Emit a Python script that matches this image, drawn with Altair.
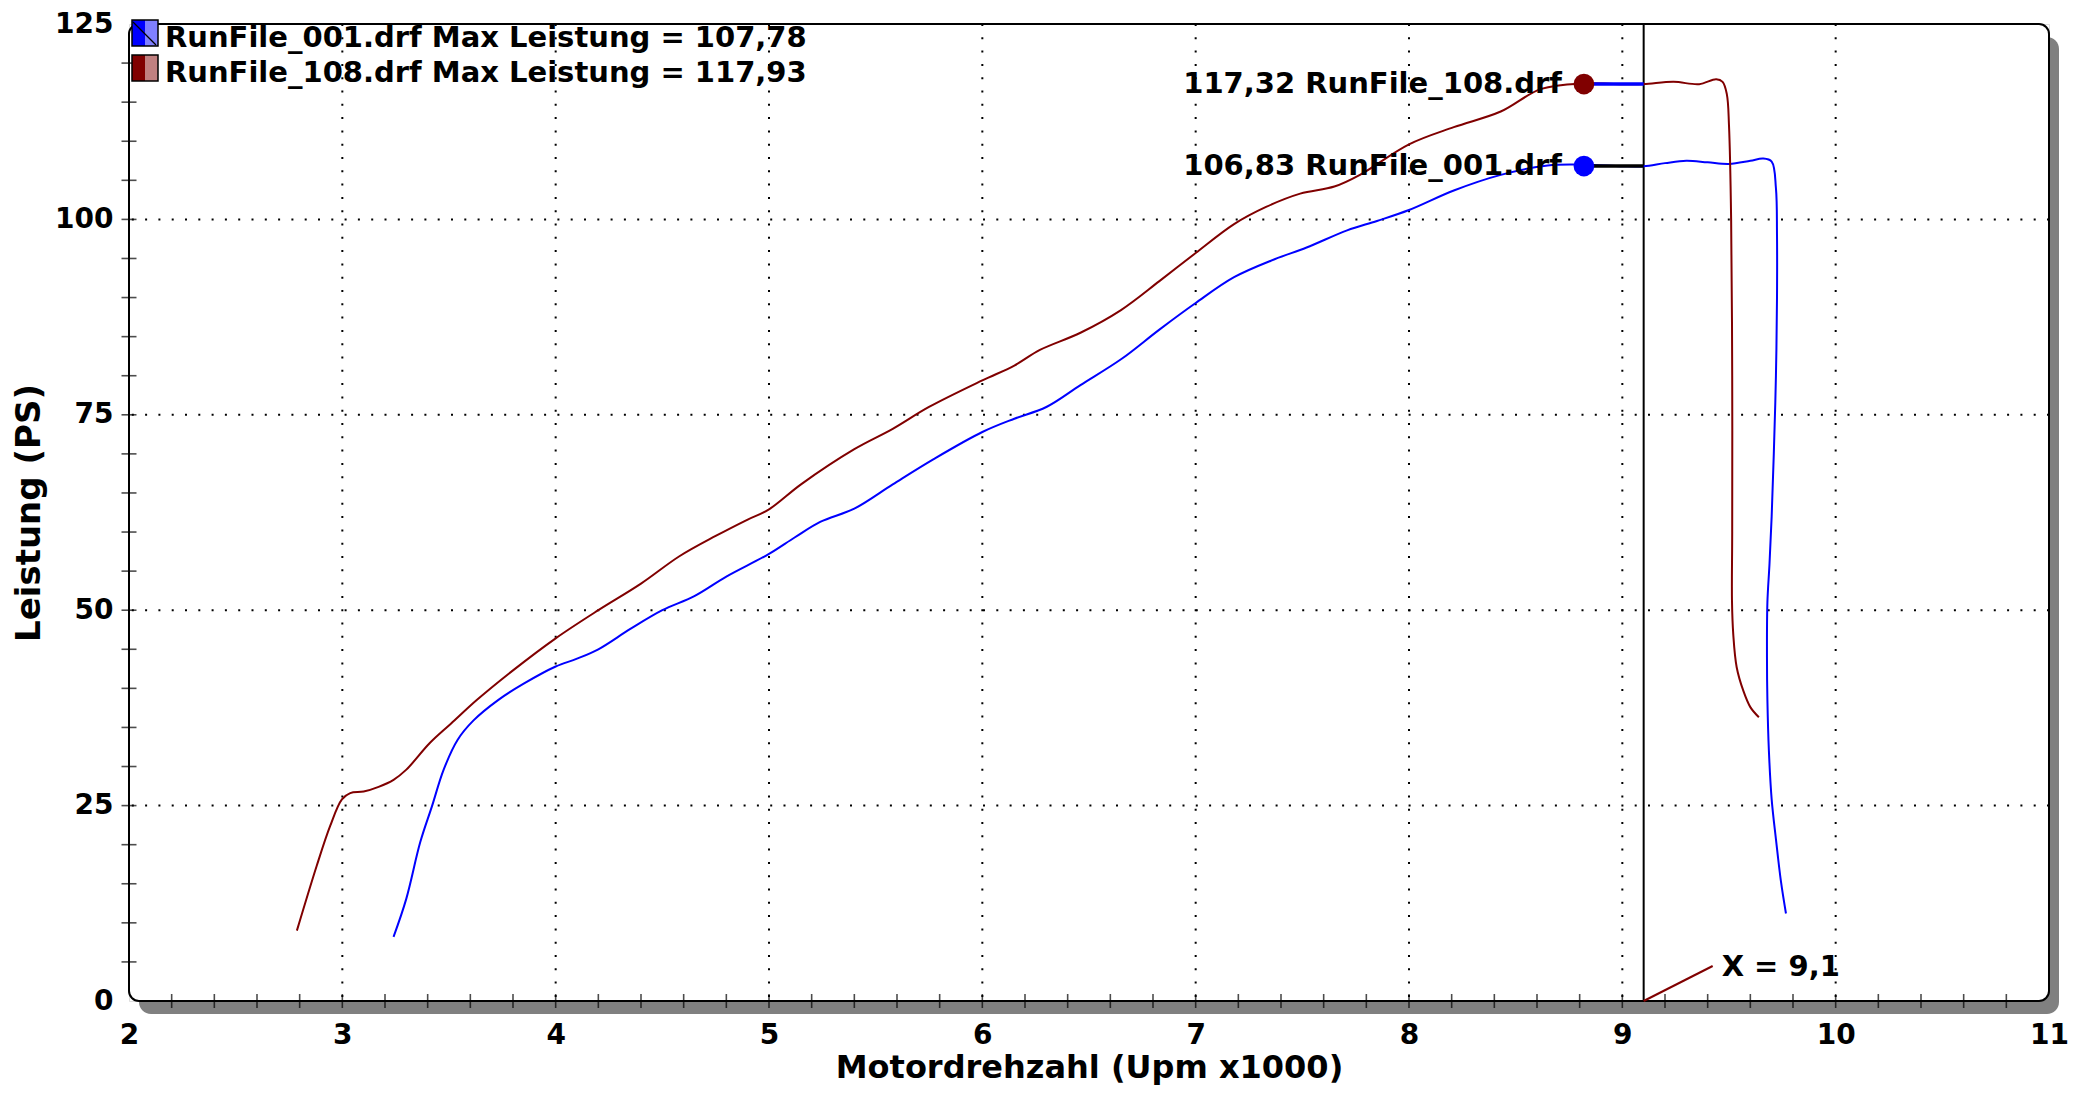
import altair as alt
import pandas as pd

# ---------------- data ----------------
series_names = ["RunFile_001.drf", "RunFile_108.drf"]
series_colors = ["#0000ff", "#800000"]
swatch_light = ["#8080ff", "#c08080"]
leader_colors = ["#000000", "#0000ff"]
max_leistung = [107.78, 117.93]
marker_rpm = 8.82
marker_values = [106.83, 117.32]
cursor_rpm = 9.1

rpm_001 = [3.24, 3.30, 3.365, 3.42, 3.475, 3.54, 3.615, 3.73, 3.85, 4.0, 4.1, 4.2,
           4.35, 4.5, 4.65, 4.8, 5.0, 5.12, 5.24, 5.4, 5.58, 5.77, 6.0, 6.15, 6.3,
           6.46, 6.65, 6.83, 7.0, 7.18, 7.37, 7.52, 7.71, 7.85, 8.0, 8.21, 8.43,
           8.65, 8.82, 9.0, 9.1, 9.2, 9.3, 9.4, 9.5, 9.6, 9.66, 9.70, 9.72, 9.725,
           9.725, 9.72, 9.71, 9.70, 9.69, 9.68, 9.678, 9.68, 9.687, 9.70, 9.72,
           9.744, 9.767]
pwr_001 = [8.2, 13.1, 20.3, 24.9, 29.6, 33.4, 35.9, 38.5, 40.6, 42.8, 43.8, 45.0,
           47.6, 50.0, 51.8, 54.3, 57.2, 59.3, 61.3, 63.0, 66.1, 69.3, 72.8, 74.5,
           76.0, 78.8, 82.1, 85.9, 89.3, 92.6, 94.9, 96.4, 98.6, 99.8, 101.2, 103.7,
           105.7, 106.9, 107.0, 106.8, 106.8, 107.2, 107.5, 107.3, 107.1, 107.5,
           107.78, 107.4, 104.0, 98.0, 90.0, 80.0, 70.0, 62.0, 56.0, 51.0, 44.0,
           38.5, 32.0, 25.8, 20.7, 15.2, 11.2]

rpm_108 = [2.787, 2.88, 2.943, 2.998, 3.037, 3.10, 3.17, 3.24, 3.30, 3.41, 3.51,
           3.63, 3.8, 4.0, 4.2, 4.4, 4.58, 4.75, 4.9, 5.0, 5.15, 5.4, 5.58, 5.75,
           6.0, 6.15, 6.27, 6.46, 6.65, 6.83, 7.0, 7.18, 7.33, 7.49, 7.65, 7.77,
           8.0, 8.21, 8.43, 8.62, 8.82, 9.0, 9.1, 9.24, 9.36, 9.44, 9.47, 9.49,
           9.50, 9.51, 9.515, 9.515, 9.514, 9.52, 9.536, 9.567, 9.60, 9.64]
pwr_108 = [9.0, 17.3, 22.4, 25.8, 26.6, 26.8, 27.4, 28.3, 29.6, 33.0, 35.5, 38.5,
           42.3, 46.4, 50.0, 53.4, 56.9, 59.5, 61.6, 62.9, 66.1, 70.6, 73.2, 76.0,
           79.4, 81.3, 83.3, 85.5, 88.4, 92.1, 95.7, 99.4, 101.6, 103.3, 104.2,
           105.7, 109.6, 111.8, 113.8, 116.7, 117.4, 117.3, 117.32, 117.6, 117.3,
           117.93, 117.6, 116.0, 112.0, 100.0, 80.0, 60.0, 51.2, 46.9, 42.7, 39.7,
           37.6, 36.3]

x_major = [2, 3, 4, 5, 6, 7, 8, 9, 10, 11]
y_major = [0, 25, 50, 75, 100, 125]
x_grid = [3, 4, 5, 6, 7, 8, 9, 10]
y_grid = [25, 50, 75, 100]
x_minor = [round(2 + 0.2 * i, 1) for i in range(1, 45)]
y_minor = [5 * i for i in range(1, 25)]

x_title = "Motordrehzahl (Upm x1000)"
y_title = "Leistung (PS)"

FONT = "DejaVu Sans"


def de(v, nd=2):
    return f"{v:.{nd}f}".replace(".", ",")


# ---------------- tables ----------------
curves = pd.concat([
    pd.DataFrame({"rpm": rpm_001, "ps": pwr_001, "run": series_names[0],
                  "idx": range(len(rpm_001))}),
    pd.DataFrame({"rpm": rpm_108, "ps": pwr_108, "run": series_names[1],
                  "idx": range(len(rpm_108))}),
])
markers = pd.DataFrame({
    "rpm": [marker_rpm, marker_rpm],
    "rpm2": [cursor_rpm, cursor_rpm],
    "ps": marker_values,
    "run": series_names,
    "lead": leader_colors,
    "label": [f"{de(v)} {n}" for v, n in zip(marker_values, series_names)],
})
box = pd.DataFrame({"x0": [x_major[0]], "x1": [x_major[-1]],
                    "y0": [y_major[0]], "y1": [y_major[-1]]})

W, H = 1920, 977
PAD = {"left": 121, "top": 16, "right": 30, "bottom": 85}

xs = alt.Scale(domain=[2, 11], nice=False, zero=False)
ys = alt.Scale(domain=[0, 125], nice=False)
cs = alt.Scale(domain=series_names, range=series_colors)

X_AX = alt.Axis(
    values=x_major, format="d", title=x_title, ticks=False, domain=False, grid=False,
    labelFont=FONT, labelFontWeight="bold", labelFontSize=28, labelColor="black",
    labelPadding=20, labelFlush=False, titleFont=FONT, titleFontWeight="bold",
    titleFontSize=32, titleColor="black", titleY=66, titleBaseline="middle")
Y_AX = alt.Axis(
    values=y_major, format="d", title=y_title, ticks=False, domain=False, grid=False,
    labelFont=FONT, labelFontWeight="bold", labelFontSize=28, labelColor="black",
    labelPadding=16, labelBaseline="middle", labelFlush=False, titleFont=FONT,
    titleFontWeight="bold", titleFontSize=34, titleColor="black", titleAngle=270,
    titleX=-100, titleY=H / 2, titleBaseline="middle", titleAlign="center")


def X(f):
    return alt.X(f, scale=xs, axis=X_AX, title=x_title)


def Y(f):
    return alt.Y(f, scale=ys, axis=Y_AX, title=y_title)


# shadow and frame
shadow = alt.Chart(box).mark_rect(
    fill="#808080", cornerRadius=12, xOffset=10, x2Offset=10, yOffset=13, y2Offset=13
).encode(x=X("x0:Q"), x2="x1:Q", y=Y("y0:Q"), y2="y1:Q")

frame = alt.Chart(box).mark_rect(
    fill="white", stroke="black", strokeWidth=2, cornerRadius=10
).encode(x=X("x0:Q"), x2="x1:Q", y=Y("y0:Q"), y2="y1:Q")

gridx = alt.Chart(pd.DataFrame({"x": x_grid})).mark_rule(
    color="black", strokeWidth=2, strokeDash=[2, 11.3]
).encode(x=X("x:Q"))
gridy = alt.Chart(pd.DataFrame({"y": y_grid})).mark_rule(
    color="black", strokeWidth=2, strokeDash=[2, 11.3]
).encode(y=Y("y:Q"))

ticks_x = alt.Chart(pd.DataFrame({"x": x_minor, "y": [y_major[0]] * len(x_minor)})).mark_tick(
    orient="vertical", size=14, thickness=1.6, color="black"
).encode(x=X("x:Q"), y=Y("y:Q"))
ticks_y = alt.Chart(pd.DataFrame({"y": y_minor, "x": [x_major[0]] * len(y_minor)})).mark_tick(
    orient="horizontal", size=15, thickness=1.6, color="black"
).encode(y=Y("y:Q"), x=X("x:Q"))

cursor = alt.Chart(pd.DataFrame({"x": [cursor_rpm]})).mark_rule(
    color="black", strokeWidth=2
).encode(x=X("x:Q"))

lines = alt.Chart(curves).mark_line(strokeWidth=2, interpolate="catmull-rom").encode(
    x=X("rpm:Q"),
    y=Y("ps:Q"),
    color=alt.Color("run:N", scale=cs, legend=None),
    detail="run:N",
    order="idx:Q",
)

leaders = alt.Chart(markers).mark_rule(strokeWidth=3.5).encode(
    x=X("rpm:Q"), x2="rpm2:Q",
    y=Y("ps:Q"),
    color=alt.Color("lead:N", scale=None),
)
dots = alt.Chart(markers).mark_circle(size=430, opacity=1).encode(
    x=X("rpm:Q"), y=Y("ps:Q"),
    color=alt.Color("run:N", scale=cs, legend=None),
)
dot_labels = alt.Chart(markers).mark_text(
    align="right", baseline="middle", dx=-22, font=FONT, fontWeight="bold",
    fontSize=29, color="black"
).encode(x=X("rpm:Q"), y=Y("ps:Q"), text="label:N")

cur_df = pd.DataFrame({"x": [cursor_rpm], "y": [y_major[0]],
                       "t": [f"X = {de(cursor_rpm, 1)}"]})
cur_lead = alt.Chart(cur_df).mark_rule(
    color="#800000", strokeWidth=2, x2Offset=69, y2Offset=-35
).encode(x=X("x:Q"), x2="x:Q", y=Y("y:Q"), y2="y:Q")
cur_text = alt.Chart(cur_df).mark_text(
    align="left", baseline="middle", dx=78, dy=-34, font=FONT, fontWeight="bold",
    fontSize=29, color="black"
).encode(x=X("x:Q"), y=Y("y:Q"), text="t:N")

# legend (top-left, inside the frame)
legend_layers = []
for i, (name, col, light, mx) in enumerate(zip(series_names, series_colors, swatch_light, max_leistung)):
    top = -4 + i * 35
    one = pd.DataFrame({"t": [f"{name} Max Leistung = {de(mx)}"]})
    legend_layers.append(alt.Chart(one).mark_rect(color=col).encode(
        x=alt.value(3), x2=alt.value(16), y=alt.value(top), y2=alt.value(top + 26)))
    legend_layers.append(alt.Chart(one).mark_rect(color=light).encode(
        x=alt.value(16), x2=alt.value(29), y=alt.value(top), y2=alt.value(top + 26)))
    if i == 0:
        legend_layers.append(alt.Chart(one).mark_rule(color="black", strokeWidth=1.2).encode(
            x=alt.value(4), x2=alt.value(27), y=alt.value(top + 2), y2=alt.value(top + 25)))
    legend_layers.append(alt.Chart(one).mark_rect(filled=False, color="black", strokeWidth=1.5).encode(
        x=alt.value(3), x2=alt.value(29), y=alt.value(top), y2=alt.value(top + 26)))
    legend_layers.append(alt.Chart(one).mark_text(
        align="left", baseline="middle", font=FONT, fontWeight="bold", fontSize=29, color="black"
    ).encode(x=alt.value(36), y=alt.value(top + 18), text="t:N"))

chart = alt.layer(
    shadow, frame, gridx, gridy, ticks_x, ticks_y, cursor, lines, leaders, dots,
    dot_labels, cur_lead, cur_text, *legend_layers
).properties(
    width=W, height=H,
    autosize=alt.AutoSizeParams(type="none"),
    padding=PAD,
).configure_view(stroke=None).configure(background="white")

chart.save("out.html", embed_options={"renderer": "svg", "actions": False})
